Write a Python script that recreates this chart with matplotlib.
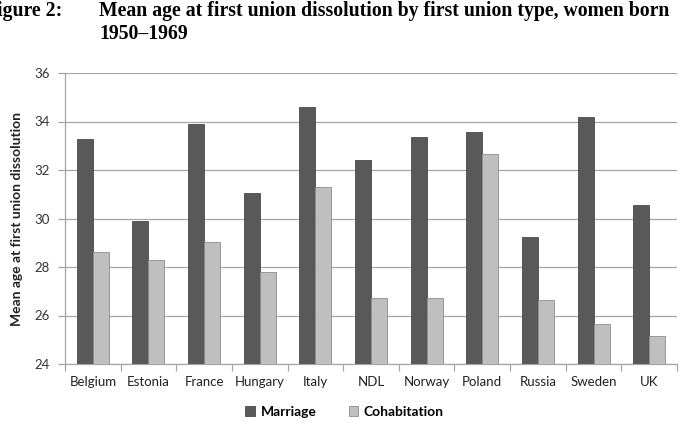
import matplotlib
matplotlib.use("Agg")
import matplotlib.pyplot as plt
import numpy as np

countries = ["Belgium", "Estonia", "France", "Hungary", "Italy", "NDL",
             "Norway", "Poland", "Russia", "Sweden", "UK"]
marriage = [33.27, 29.9, 33.9, 31.07, 34.6, 32.4, 33.35, 33.55, 29.25, 34.2, 30.57]
cohabitation = [28.6, 28.3, 29.05, 27.8, 31.3, 26.73, 26.73, 32.65, 26.65, 25.65, 25.15]
yticks = [24, 26, 28, 30, 32, 34, 36]

plt.rcParams['font.family'] = ['Lato', 'DejaVu Sans']

fig = plt.figure(figsize=(6.84, 4.26), dpi=100)
ax = fig.add_axes([65/684, 1-364/426, (677-65)/684, (364-73)/426])

x = np.arange(len(countries))
w = 0.288
ax.bar(x - w/2, marriage, w, color="#595959", edgecolor="#4a4a4a",
       linewidth=0.6, label="Marriage", zorder=3)
ax.bar(x + w/2, cohabitation, w, color="#bfbfbf", edgecolor="#8c8c8c",
       linewidth=0.6, label="Cohabitation", zorder=3)

ax.set_ylim(24, 36)
ax.set_xlim(-0.5, len(countries) - 0.5)
ax.set_yticks(yticks)
ax.set_yticklabels([str(t) for t in yticks], fontsize=9.5, color="#333333")
ax.yaxis.grid(True, color="#a6a6a6", linewidth=0.9, zorder=0)
ax.set_axisbelow(True)

ax.set_xticks(x)
ax.set_xticklabels(countries, fontsize=9.5, color="#222222")
ax.tick_params(axis='x', length=0, pad=9)
ax.set_xticks(np.arange(-0.5, len(countries)), minor=True)
ax.tick_params(axis='x', which='minor', length=5, color="#a6a6a6", width=0.9)
ax.tick_params(axis='y', length=5, color="#a6a6a6", width=0.9, pad=6)

for s in ["top", "right"]:
    ax.spines[s].set_visible(False)
for s in ["left", "bottom"]:
    ax.spines[s].set_color("#a6a6a6")
    ax.spines[s].set_linewidth(0.9)

ax.set_ylabel("Mean age at first union dissolution", fontsize=10, fontweight="bold",
              color="#222222", labelpad=8)

leg = ax.legend(loc="center", bbox_to_anchor=(0.457, -0.165), ncol=2, frameon=False,
                prop={'weight': 'bold', 'size': 10}, handlelength=0.7,
                handleheight=0.7, columnspacing=2.3, handletextpad=0.4)

title_kw = dict(fontsize=14.25, fontweight="bold", family="Liberation Serif",
                va="baseline", ha="left")
fig.text(-0.005, 1-16/426, "igure 2:", **title_kw)
fig.text(99/684, 1-16/426, "Mean age at first union dissolution by first union type, women born",
         **title_kw)
fig.text(99/684, 1-39/426, "1950\u20131969", **title_kw)

fig.savefig("out.png", dpi=100)
